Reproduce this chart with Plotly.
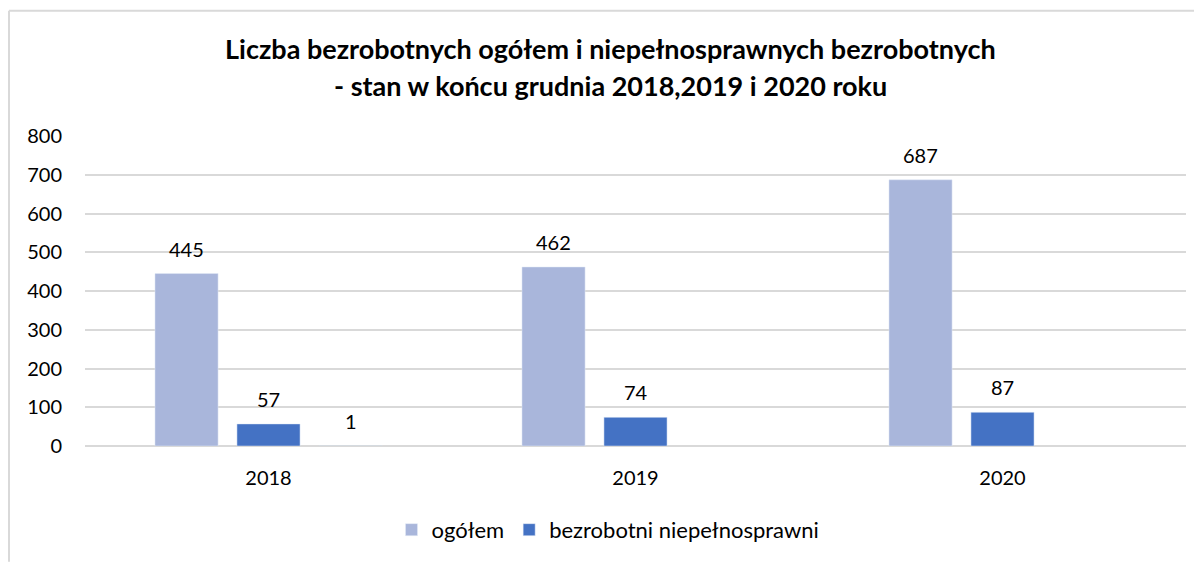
import plotly.graph_objects as go

years = ["2018", "2019", "2020"]
ogolem = [445, 462, 687]
niepelnosprawni = [57, 74, 87]
trzecia = [1, None, None]

title_lines = ["Liczba bezrobotnych ogółem i niepełnosprawnych bezrobotnych",
               "- stan w końcu grudnia 2018,2019 i 2020 roku"]
y_ticks = [0, 100, 200, 300, 400, 500, 600, 700, 800]

# page body adds an 8px offset; figure coordinates = screen coordinates - 8
OFF = 8
W, H = 1202 - OFF, 562 - OFF
L, R, T, B = 85 - OFF, 1186 - OFF, 135.5 - OFF, 446 - OFF

FONT = "Lato"
series = [
    ("ogółem", ogolem, "#A9B6DB", True),
    ("bezrobotni niepełnosprawni", niepelnosprawni, "#4472C4", True),
    ("", trzecia, "#A5A5A5", False),
]

fig = go.Figure()
for name, vals, color, show in series:
    fig.add_trace(go.Bar(x=years, y=vals, name=name, marker_color=color,
                         showlegend=show, hoverinfo="x+y"))

def px(x):
    return (x - OFF - L) / (R - L)

def py(y):
    return (B - (y - OFF)) / (B - T)

slot = 82
annotations = []
for i, (name, vals, color, show) in enumerate(series):
    for j, v in enumerate(vals):
        if v is None:
            continue
        annotations.append(dict(x=j, y=v, text=str(v), showarrow=False,
                                xshift=(i - 1) * slot, yshift=25, yanchor="middle",
                                font=dict(family=FONT, size=20, color="#000000")))

annotations += [
    dict(text="<b>" + title_lines[0] + "</b>", x=px(610), y=py(48), xref="paper",
         yref="paper", showarrow=False, xanchor="center", yanchor="middle",
         font=dict(family=FONT, size=27, color="#000000")),
    dict(text="<b>" + title_lines[1] + "</b>", x=px(610), y=py(85), xref="paper",
         yref="paper", showarrow=False, xanchor="center", yanchor="middle",
         font=dict(family=FONT, size=27, color="#000000")),
]

fig.update_layout(
    width=W, height=H,
    margin=dict(l=L, r=W - R, t=T, b=H - B, pad=0, autoexpand=False),
    paper_bgcolor="white", plot_bgcolor="white",
    barmode="group", bargap=0.33, bargroupgap=0.23,
    font=dict(family=FONT, size=20, color="#000000"),
    showlegend=True,
    legend=dict(orientation="h", x=px(608), xanchor="center", y=py(530), yanchor="middle",
                font=dict(family=FONT, size=22, color="#000000"),
                traceorder="normal"),
    xaxis=dict(type="category", range=[-0.5, len(years) - 0.5], showgrid=False,
               showline=False, ticks="", tickfont=dict(size=20), ticklabelstandoff=18),
    yaxis=dict(range=[0, 800], tickvals=y_ticks, showgrid=True, gridcolor="#D9D9D9",
               gridwidth=1.5, zeroline=True, zerolinecolor="#D9D9D9", zerolinewidth=1.5,
               showline=False, ticks="", tickfont=dict(size=20), ticklabelstandoff=22),
    annotations=annotations,
    shapes=[
        dict(type="line", xref="paper", yref="paper", x0=px(9), x1=px(1202), y0=py(10), y1=py(10),
             line=dict(color="#D9D9D9", width=2)),
        dict(type="line", xref="paper", yref="paper", x0=px(9), x1=px(9), y0=py(10), y1=py(562),
             line=dict(color="#D9D9D9", width=2)),
    ],
)

fig.write_html("out.html")
